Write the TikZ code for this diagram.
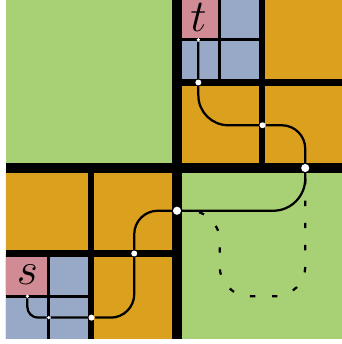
\documentclass[tikz,border=0pt]{standalone}
\usepackage{amsmath}
\usepackage{xcolor}
\usepackage{tikz}
\usetikzlibrary{calc}

\definecolor{zellgruen}{RGB}{168,209,117}
\definecolor{zellorange}{RGB}{220,160,31}
\definecolor{zellblau}{RGB}{152,169,199}
\definecolor{zellrot}{RGB}{209,139,148}

\begin{document}
\begin{tikzpicture}[
    gitterA/.style={line width=6.6pt},
    gitterB/.style={line width=4pt},
    gitterC/.style={line width=2.3pt},
    punkt/.style={circle,fill=white,inner sep=0pt},
    punktA/.style={punkt,minimum size=1.9mm},
    punktB/.style={punkt,minimum size=1.4mm},
    punktC/.style={punkt,minimum size=0.85mm},
    weg/.style={line width=1.5pt},
    umweg/.style={line width=1.5pt,dash pattern=on 3.6pt off 11.1pt,dash phase=2.8pt},
    marke/.style={inner sep=0pt,font=\Huge,scale=1.22}]
    \useasboundingbox (-0.14,-0.117) rectangle (7.86,7.93);
    \clip (0,0) rectangle (7.86,7.93);
    % Zellen der Zerlegung (grob nach fein)
    \fill[zellgruen] (0,0) rectangle (8,8);
    \fill[zellorange] (4,4) rectangle (8,8) (0,0) rectangle (4,4);
    \fill[zellblau] (4,6) rectangle (6,8) (0,0) rectangle (2,2);
    \fill[zellrot] (4,7) rectangle (5,8) (0,1) rectangle (1,2);
    % Trennlinien: je groeber die Stufe, desto dicker
    \draw[gitterC] (5,6) -- (5,8) (4,7) -- (6,7) (1,0) -- (1,2) (0,1) -- (2,1);
    \draw[gitterB] (6,4) -- (6,8) (4,6) -- (8,6) (2,0) -- (2,4) (0,2) -- (4,2);
    \draw[gitterA] (4,0) -- (4,8) (0,4) -- (8,4);
    % Uebergangspunkte auf den Trennlinien
    \node[punktC] (ds) at (0.5,1) {};
    \node[punktC] (d1) at (1,0.5) {};
    \node[punktB] (d2) at (2,0.5) {};
    \node[punktB] (d3) at (3,2) {};
    \node[punktA] (d4) at (4,3) {};
    \node[punktA] (d5) at (7,4) {};
    \node[punktB] (d6) at (6,5) {};
    \node[punktB] (d7) at (4.5,6) {};
    \node[punktC] (dt) at (4.5,7) {};
    \node[marke] (ls) at (0.5,1.5) {$s$};
    \node[marke] (lt) at (4.5,7.52) {$t$};
    % Weg von s nach t
    \draw[weg] (ds) [rounded corners=2.5mm] |- (d1) -- (d2)
      [rounded corners=5.5mm] -| (d3) |- (d4)
      [rounded corners=7.5mm] -| (d5)
      [rounded corners=5.5mm] |- (d6)
      [rounded corners=7mm] -| (d7) -- (dt);
    \draw[umweg] (d4) [rounded corners=7mm] -| (5,1) -| (d5);
\end{tikzpicture}
\end{document}
